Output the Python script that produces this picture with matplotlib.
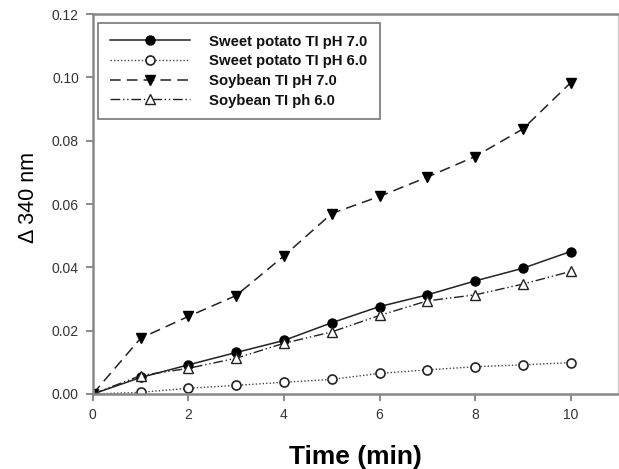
import matplotlib.pyplot as plt
import numpy as np

plt.rcParams['font.family'] = ['Liberation Sans', 'DejaVu Sans']

time_min = [0, 1, 2, 3, 4, 5, 6, 7, 8, 9, 10]
sweet_ph7 = [0.0, 0.0052, 0.0092, 0.0131, 0.0169, 0.0225, 0.0276, 0.0313, 0.0357, 0.0397, 0.0450]
sweet_ph6 = [0.0, 0.0005, 0.0018, 0.0027, 0.0037, 0.0046, 0.0065, 0.0076, 0.0086, 0.0092, 0.0099]
soy_ph7 = [0.0, 0.0176, 0.0245, 0.0311, 0.0436, 0.0570, 0.0624, 0.0685, 0.0750, 0.0837, 0.0983]
soy_ph6 = [0.0, 0.0058, 0.0081, 0.0113, 0.0160, 0.0196, 0.0248, 0.0294, 0.0313, 0.0347, 0.0387]
labels = ['Sweet potato TI pH 7.0', 'Sweet potato TI pH 6.0',
          'Soybean TI pH 7.0', 'Soybean TI ph 6.0']

fig = plt.figure(figsize=(6.19, 4.69), dpi=100)
ax = fig.add_axes([0.150, 0.160, 0.849, 0.810])

lc = '#222222'
ax.plot(time_min, sweet_ph7, color=lc, lw=1.1, marker='o', ms=6.5,
        mfc='black', mec='black', label=labels[0])
ax.plot(time_min, sweet_ph6, color='#444444', lw=1.0, ls=(0, (1, 1.5)), marker='o', ms=6.5,
        mfc='white', mec=lc, mew=1.2, label=labels[1])
ax.plot(time_min, soy_ph7, color=lc, lw=1.1, ls=(0, (7, 4)), marker='v', ms=7.5,
        mfc='black', mec='black', label=labels[2])
ax.plot(time_min, soy_ph6, color=lc, lw=1.0, ls=(0, (7, 2, 1, 2, 1, 2)), marker='^', ms=7.5,
        mfc='white', mec=lc, mew=1.0, label=labels[3])

ax.set_xlim(0, 11)
ax.set_ylim(0, 0.12)
ax.set_xticks(np.arange(0, 11, 2))
ax.set_yticks(np.arange(0, 0.121, 0.02))
ax.yaxis.set_major_formatter(plt.FormatStrFormatter('%.2f'))
ax.tick_params(direction='out', length=5, width=1.2, color='#777777',
               labelsize=10, labelcolor='#333333', pad=5)
for sp in ax.spines.values():
    sp.set_color('#888888')
    sp.set_linewidth(1.8)
ax.spines['right'].set_color('#cccccc')
ax.spines['right'].set_linewidth(1.0)

ax.set_xlabel('Time (min)', fontsize=19, fontweight='bold', labelpad=17)
ax.set_ylabel('\u0394 340 nm', fontsize=15.5, fontweight='medium')
ax.yaxis.set_label_coords(-0.103, 0.518)

leg = ax.legend(loc='upper left', bbox_to_anchor=(0.004, 0.985),
                prop={'weight': 'bold', 'size': 10.7}, fancybox=False,
                edgecolor='#555555', handlelength=5.4, borderpad=0.8,
                labelspacing=0.38, handletextpad=1.3, borderaxespad=0.2)
leg.get_frame().set_linewidth(1.2)
for t in leg.get_texts():
    t.set_color('#111111')

fig.savefig('out.png', dpi=100)
